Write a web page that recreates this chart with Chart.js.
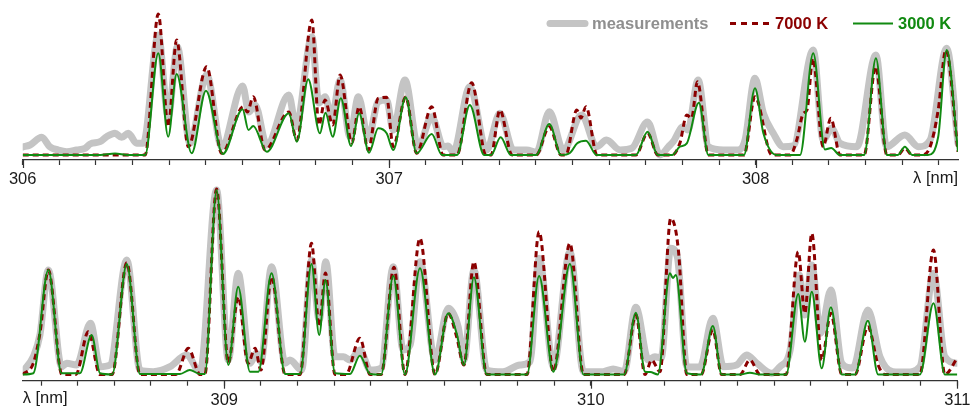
<!DOCTYPE html>
<html>
<head>
<meta charset="utf-8">
<script src="https://cdn.jsdelivr.net/npm/chart.js@4.4.1/dist/chart.umd.min.js"></script>
<style>
  html, body { margin: 0; padding: 0; background: #fff; }
  #wrap { position: relative; width: 971px; height: 409px; overflow: hidden; }
  #wrap canvas { position: absolute; left: 0; }
  #topChart { top: 0; }
  #bottomChart { top: 180px; }
</style>
</head>
<body>
<div id="wrap">
  <canvas id="topChart" width="971" height="200"></canvas>
  <canvas id="bottomChart" width="971" height="229"></canvas>
</div>
<script>
// ---- Spectrum, 306.0 - 308.55 nm (intensity in arbitrary units) ----
const topWlMeas = [306.000,306.020,306.052,306.074,306.097,306.120,306.147,306.170,306.184,306.211,
  306.229,306.252,306.270,306.288,306.311,306.329,306.370,306.397,306.422,306.456,
  306.502,306.543,306.600,306.617,306.634,306.666,306.726,306.746,306.789,306.808,
  306.825,306.843,306.866,306.893,306.916,306.943,306.970,306.993,307.011,307.043,
  307.079,307.116,307.148,307.160,307.175,307.220,307.266,307.302,307.339,307.375,
  307.402,307.437,307.475,307.525,307.566,307.593,307.630,307.662,307.705,307.739,
  307.762,307.775,307.802,307.815,307.843,307.871,307.912,307.952,307.971,307.998,
  308.021,308.048,308.075,308.102,308.157,308.184,308.207,308.230,308.276,308.328,
  308.357,308.407,308.444,308.476,308.521,308.552];
const topMeas = [0.08,0.10,0.177,0.083,0.05,0.033,0.05,0.067,0.11,0.133,
  0.183,0.217,0.177,0.217,0.117,0.117,1.20,0.383,1.083,0.117,
  0.80,0.083,0.69,0.43,0.50,0.10,0.60,0.283,1.183,0.52,
  0.583,0.367,0.75,0.183,0.583,0.167,0.533,0.55,0.25,0.75,
  0.083,0.383,0.083,0.09,0.033,0.683,0.05,0.417,0.05,0.05,
  0.03,0.433,0.05,0.40,0.083,0.15,0.05,0.067,0.33,0.0,
  0.083,0.133,0.283,0.25,0.75,0.083,0.05,0.05,0.15,0.767,
  0.417,0.217,0.083,0.09,1.05,0.15,0.267,0.117,0.083,1.00,
  0.083,0.20,0.083,0.15,1.067,0.117];

const topWl7000 = [306.000,306.334,306.370,306.397,306.420,306.452,306.502,306.543,306.602,306.613,
  306.629,306.661,306.726,306.748,306.789,306.808,306.825,306.846,306.866,306.898,
  306.918,306.943,306.970,306.993,307.011,307.045,307.075,307.116,307.147,307.185,
  307.225,307.264,307.278,307.302,307.335,307.401,307.437,307.469,307.482,307.512,
  307.523,307.537,307.567,307.673,307.705,307.733,307.772,307.793,307.812,307.825,
  307.841,307.871,307.968,307.998,308.044,308.094,308.112,308.130,308.140,308.156,
  308.184,308.205,308.230,308.296,308.327,308.358,308.388,308.407,308.427,308.454,
  308.476,308.498,308.519,308.552];
const top7000 = [0,0,1.41,0.283,1.15,0.083,0.883,0.017,0.483,0.43,
  0.583,0.05,0.43,0.15,1.35,0.30,0.55,0.30,0.80,0.12,
  0.483,0.05,0.567,0.577,0.083,0.58,0.017,0.483,0,0,
  0.723,0,0,0.45,0,0,0.283,0,0,0.45,
  0.37,0.483,0,0,0.217,0,0,0.117,0.40,0.367,
  0.733,0,0,0.583,0,0,0.15,0.417,0.45,0.967,
  0.083,0.367,0,0,0.883,0,0,0.067,0,0,
  0.083,0.45,1.05,0.033];

const topWl3000 = [306.000,306.211,306.252,306.287,306.334,306.370,306.397,306.420,306.461,306.500,
  306.546,306.600,306.616,306.629,306.666,306.726,306.748,306.779,306.811,306.826,
  306.846,306.868,306.896,306.918,306.945,306.970,306.993,307.011,307.045,307.075,
  307.116,307.144,307.185,307.220,307.259,307.278,307.304,307.332,307.401,307.437,
  307.469,307.493,307.513,307.537,307.566,307.673,307.705,307.733,307.772,307.793,
  307.812,307.845,307.871,307.968,307.998,308.021,308.057,308.121,308.157,308.189,
  308.206,308.230,308.296,308.328,308.358,308.388,308.407,308.427,308.470,308.498,
  308.521,308.552];
const top3000 = [0,0,0.015,0,0,1.017,0.183,0.81,0.017,0.643,
  0.01,0.457,0.25,0.29,0.033,0.417,0.133,0.757,0.217,0.423,
  0.183,0.567,0.09,0.417,0.023,0.267,0.217,0.05,0.577,0.017,
  0.21,0,0,0.50,0,0,0.177,0,0,0.31,
  0,0.02,0.117,0.143,0,0,0.233,0,0,0.083,
  0.117,0.523,0,0,0.667,0.217,0,0,1.017,0.055,
  0.07,0,0,0.967,0,0,0.083,0,0,0.183,
  1.05,0.033];

// ---- Spectrum, 308.45 - 311.0 nm ----
const botWlMeas = [308.450,308.479,308.497,308.520,308.556,308.570,308.597,308.635,308.661,308.688,
  308.734,308.770,308.806,308.852,308.897,308.934,308.979,309.011,309.038,309.070,
  309.088,309.100,309.129,309.166,309.179,309.211,309.238,309.259,309.277,309.302,
  309.325,309.343,309.370,309.398,309.428,309.461,309.488,309.507,309.534,309.575,
  309.611,309.638,309.654,309.681,309.716,309.760,309.807,309.834,309.859,309.898,
  309.943,309.980,310.033,310.061,310.091,310.123,310.157,310.175,310.192,310.218,
  310.236,310.262,310.298,310.333,310.362,310.398,310.425,310.453,310.494,310.516,
  310.544,310.569,310.584,310.603,310.627,310.655,310.685,310.715,310.756,310.789,
  310.825,310.862,310.898,310.935,310.966,311.000];
const botMeas = [0.028,0.178,0.395,1.045,0.078,0.112,0.095,0.512,0.078,0.095,
  1.145,0.045,0.028,0.078,0.195,0.028,1.845,0.145,1.012,0.112,
  0.212,0.125,1.078,0.112,0.145,0.045,1.145,0.545,1.128,0.178,
  0.178,0.145,0.245,0.045,0.065,1.078,0.245,0.295,1.128,0.145,
  0.662,0.478,0.145,1.045,0.045,0.028,0.095,0.128,1.162,0.078,
  1.228,0.028,0.028,0.055,0.028,0.672,0.145,0.178,0.165,1.262,
  1.178,0.078,0.075,0.562,0.078,0.095,0.195,0.112,0.012,0.078,
  0.245,0.995,0.595,1.095,0.412,0.845,0.112,0.065,0.645,0.178,
  0.028,0.025,0.078,1.012,0.178,0.112];

const botWl7000 = [308.450,308.479,308.497,308.520,308.557,308.595,308.629,308.661,308.694,308.734,
  308.770,308.868,308.902,308.934,308.947,308.979,309.011,309.038,309.065,309.084,
  309.100,309.129,309.166,309.207,309.238,309.259,309.276,309.302,309.332,309.370,
  309.398,309.428,309.463,309.493,309.534,309.575,309.611,309.634,309.654,309.681,
  309.716,309.826,309.859,309.898,309.943,309.980,310.091,310.123,310.148,310.166,
  310.189,310.218,310.239,310.262,310.301,310.333,310.357,310.407,310.434,310.462,
  310.533,310.566,310.584,310.603,310.630,310.655,310.685,310.721,310.756,310.784,
  310.803,310.898,310.935,310.966,311.000];
const bot7000 = [0,0.112,0.412,1.045,0,0,0.428,0,0,1.118,
  0,0,0.262,0,0,1.855,0.115,0.778,0.112,0.262,
  0.045,0.978,0,0,1.312,0.478,1.015,0,0,0.362,
  0,0,1.072,0,1.362,0,0.612,0.378,0.095,1.128,
  0,0,1.428,0.028,1.312,0,0,0.595,0,0.145,
  0.028,1.562,1.245,0,0,0.445,0,0,0.145,0,
  0,1.228,0.612,1.412,0.145,0.612,0,0,0.478,0.095,
  0,0,1.245,0,0.165];

const botWl3000 = [308.450,308.479,308.520,308.556,308.606,308.638,308.661,308.694,308.734,308.770,
  308.879,308.906,308.934,308.947,308.979,309.011,309.038,309.070,309.093,309.129,
  309.166,309.207,309.238,309.259,309.276,309.302,309.343,309.370,309.398,309.428,
  309.461,309.493,309.534,309.575,309.611,309.634,309.654,309.681,309.716,309.826,
  309.859,309.898,309.943,309.980,310.091,310.123,310.148,310.162,310.183,310.216,
  310.224,310.232,310.262,310.301,310.333,310.357,310.407,310.434,310.462,310.533,
  310.566,310.584,310.603,310.630,310.655,310.685,310.721,310.756,310.784,310.898,
  310.935,310.966,311.000];
const bot3000 = [0,0.012,1.045,0.012,0.012,0.395,0.012,0,1.105,0.005,
  0.005,0.045,0.005,0.005,1.845,0.095,0.878,0.028,0.028,1.012,
  0.005,0.005,1.105,0.395,0.945,0.012,0.005,0.188,0.005,0,
  0.985,0,1.062,0,0.612,0.412,0.095,0.972,0,0,
  0.985,0.028,1.105,0,0,0.618,0.028,0.025,0,1.012,
  0.965,0.995,0.012,0,0.485,0,0,0.018,0,0,
  0.805,0.328,0.828,0.062,0.672,0,0,0.538,0,0,
  0.712,0,0];

const seriesNames = ['measurements', '7000 K', '3000 K'];
const axisTitle = 'λ [nm]';
const tickStep = 0.1;   // nm between axis marks; whole nm are labelled

// ---- styling ----
const FONT = '"Liberation Sans", Arial, Helvetica, sans-serif';
const AXIS = '#333333';
const C_MEAS = '#c4c4c4', C_MEAS_TEXT = '#8f8f8f';
const C_7000 = '#8b0000';
const C_3000 = '#118a11';

Chart.defaults.font.family = FONT;
Chart.defaults.animation = false;

const pts = (xs, ys) => xs.map((x, i) => ({ x: x, y: ys[i] }));
const isWhole = v => Math.abs(v - Math.round(v)) < 1e-6;

function datasets(wlM, m, wl7, s7, wl3, s3) {
  return [
    { label: seriesNames[0], data: pts(wlM, m), order: 3, borderColor: C_MEAS, borderWidth: 7,
      borderCapStyle: 'round', borderJoinStyle: 'round' },
    { label: seriesNames[1], data: pts(wl7, s7), order: 2, borderColor: C_7000, borderWidth: 3,
      borderDash: [6, 4] },
    { label: seriesNames[2], data: pts(wl3, s3), order: 1, borderColor: C_3000, borderWidth: 2 }
  ].map(d => Object.assign(d, { pointRadius: 0, fill: false, cubicInterpolationMode: 'monotone' }));
}

// axis marks on the 0.1 nm grid that fall inside [min, max]
function gridTicks(min, max) {
  const out = [];
  for (let k = Math.ceil(min / tickStep - 1e-6); k * tickStep <= max + 1e-9; k++) {
    out.push({ value: Math.round(k * tickStep * 1000) / 1000 });
  }
  return out;
}

function xAxis(min, max, align, titlePad, axisHeight) {
  return {
    type: 'linear', bounds: 'data', min: min, max: max,
    border: { display: true, color: AXIS, width: 1.2 },
    grid: { drawOnChartArea: false, drawTicks: true, tickLength: 5, tickColor: AXIS, tickWidth: 1.2 },
    ticks: {
      autoSkip: false, maxRotation: 0, minRotation: 0,
      padding: 5, color: '#1a1a1a', font: { size: 16.5 },
      callback: v => isWhole(v) ? String(Math.round(v)) : ''
    },
    title: { display: true, text: axisTitle, align: align, color: '#1a1a1a',
      font: { size: 16.5 }, padding: { top: 0, bottom: titlePad } },
    afterBuildTicks: s => { s.ticks = gridTicks(min, max); },
    afterFit: s => { s.height = axisHeight; s.paddingLeft = 0; s.paddingRight = 0; }
  };
}

// longer marks at whole nanometres
const majorTicks = {
  id: 'majorTicks',
  afterDraw(chart) {
    const s = chart.scales.x, ctx = chart.ctx;
    ctx.save();
    ctx.strokeStyle = AXIS; ctx.lineWidth = 1.2;
    s.ticks.forEach(t => {
      if (isWhole(t.value)) {
        const x = Math.round(s.getPixelForValue(t.value)) + 0.5;
        ctx.beginPath(); ctx.moveTo(x, s.top); ctx.lineTo(x, s.top + 8); ctx.stroke();
      }
    });
    ctx.restore();
  }
};

// line legend in the upper right corner
const lineLegend = {
  id: 'lineLegend',
  afterDraw(chart) {
    const ctx = chart.ctx, y = 23.5;
    const items = [
      { x: 547, text: seriesNames[0], color: C_MEAS, textColor: C_MEAS_TEXT, width: 7, dash: [], cap: 'round' },
      { x: 730, text: seriesNames[1], color: C_7000, textColor: C_7000, width: 3, dash: [6, 5], cap: 'butt' },
      { x: 853, text: seriesNames[2], color: C_3000, textColor: C_3000, width: 2, dash: [], cap: 'butt' }
    ];
    ctx.save();
    ctx.font = 'bold 16.5px ' + FONT;
    ctx.textBaseline = 'middle';
    items.forEach(it => {
      ctx.strokeStyle = it.color; ctx.lineWidth = it.width; ctx.lineCap = it.cap;
      ctx.setLineDash(it.dash);
      const x0 = it.cap === 'round' ? it.x + 3 : it.x;
      const x1 = it.cap === 'round' ? it.x + 38 : it.x + 40;
      ctx.beginPath(); ctx.moveTo(x0, y); ctx.lineTo(x1, y); ctx.stroke();
      ctx.setLineDash([]);
      ctx.fillStyle = it.textColor;
      ctx.fillText(it.text, it.x + 45, y + 0.5);
    });
    ctx.restore();
  }
};

function makeChart(id, ds, xMin, xMax, yMin, yMax, align, titlePad, axisHeight, padRight, extra) {
  return new Chart(document.getElementById(id), {
    type: 'line',
    data: { datasets: ds },
    options: {
      responsive: false,
      animation: false,
      layout: { padding: { left: 22.7, right: padRight, top: 0, bottom: 0 } },
      plugins: { legend: { display: false }, tooltip: { enabled: false } },
      scales: {
        x: xAxis(xMin, xMax, align, titlePad, axisHeight),
        y: { display: false, min: yMin, max: yMax }
      }
    },
    plugins: [majorTicks].concat(extra)
  });
}

makeChart('topChart', datasets(topWlMeas, topMeas, topWl7000, top7000, topWl3000, top3000),
  306.0, 308.552, -0.05, 1.55, 'end', 12, 40, 13, [lineLegend]);
makeChart('bottomChart', datasets(botWlMeas, botMeas, botWl7000, bot7000, botWl3000, bot3000),
  308.45, 311.0, -0.062, 1.945, 'start', 1, 28.3, 13.7, []);
</script>
</body>
</html>
